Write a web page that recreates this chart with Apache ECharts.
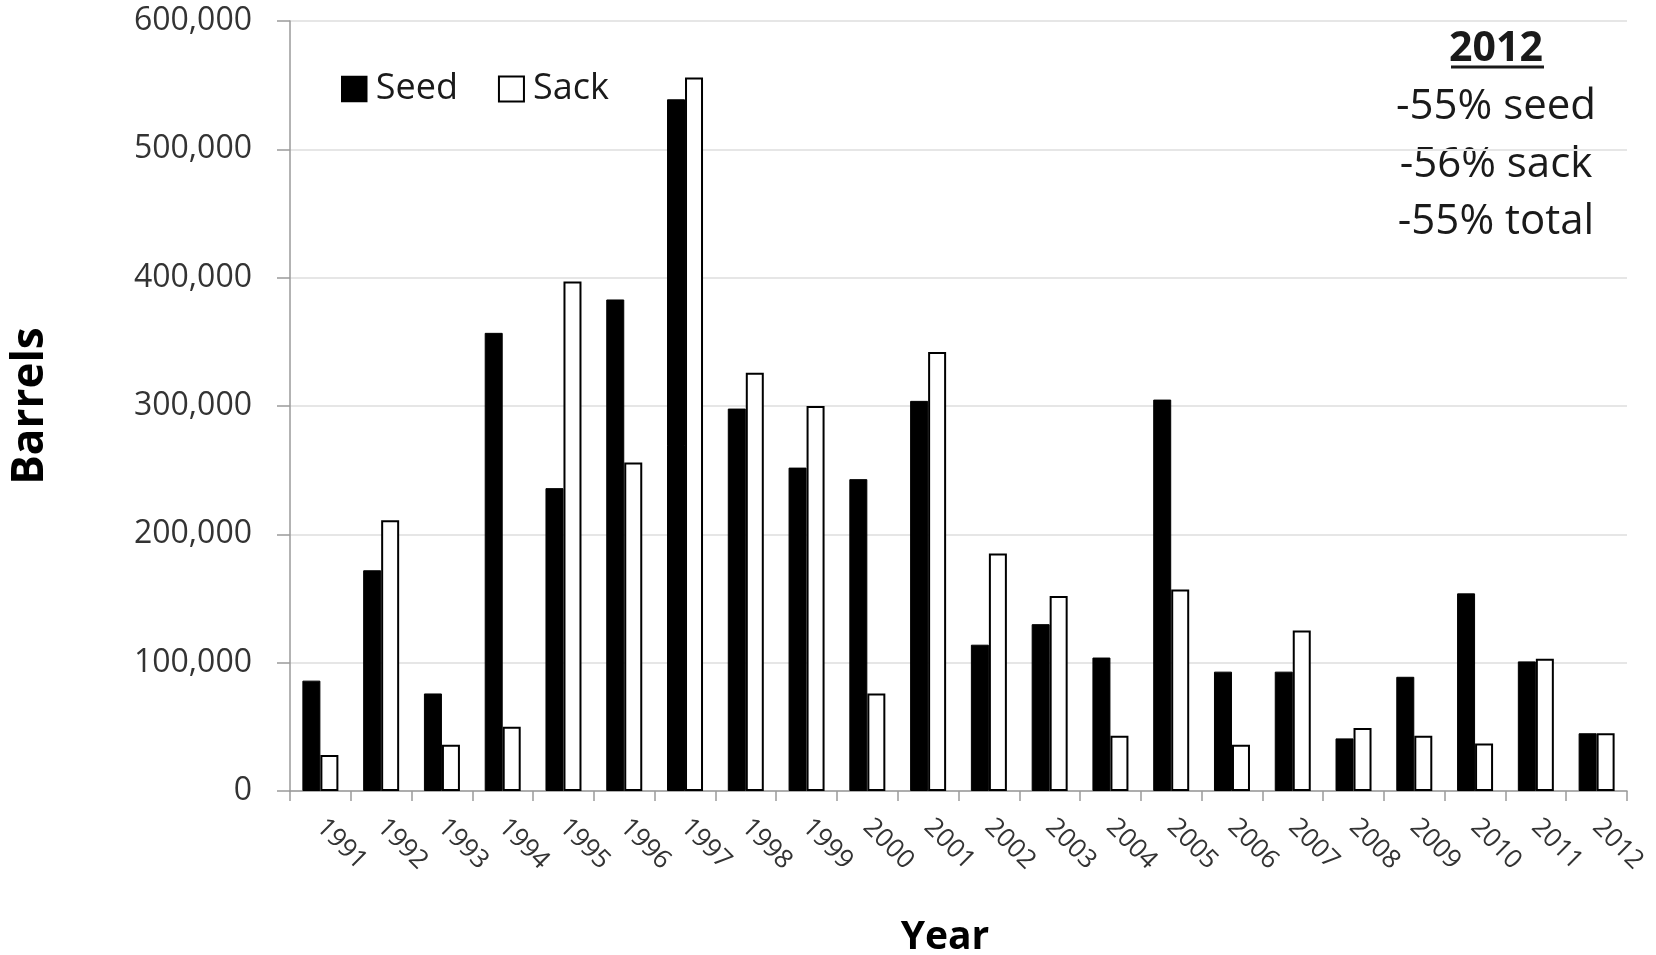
<!DOCTYPE html>
<html>
<head>
<meta charset="utf-8">
<script src="https://cdn.jsdelivr.net/npm/echarts@6/dist/echarts.min.js"></script>
<style>
html,body{margin:0;padding:0;background:#fff;}
#chart{width:1656px;height:955px;}
</style>
</head>
<body>
<div id="chart"></div>
<script>
var years = ['1991','1992','1993','1994','1995','1996','1997','1998','1999','2000','2001','2002','2003','2004','2005','2006','2007','2008','2009','2010','2011','2012'];
var seed = [86000,172000,76000,357000,236000,383000,539000,298000,252000,243000,304000,114000,130000,104000,305000,93000,93000,41000,89000,154000,101000,45000];
var sack = [28000,211000,36000,50000,397000,256000,556000,326000,300000,76000,342000,185000,152000,43000,157000,36000,125000,49000,43000,37000,103000,45000];
var yTicks = [0,100000,200000,300000,400000,500000,600000];
var noteTitle = '2012';
var noteLines = ['-55% seed','-56% sack','-55% total'];

var FONT = '"Open Sans", "Noto Sans", sans-serif';
var chart = echarts.init(document.getElementById('chart'));
var graphics = [
  {type:'text', x:1496, y:49, style:{text:noteTitle, font:'bold 41px "Open Sans"', fill:'#1a1a1a', textAlign:'center', textVerticalAlign:'middle'}},
  {type:'line', shape:{x1:1451, y1:67, x2:1544, y2:67}, style:{stroke:'#1a1a1a', lineWidth:3}}
];
var noteY = [107, 165, 222];
noteLines.forEach(function(t,i){
  graphics.push({type:'text', x:1496, y:noteY[i], style:{text:t, font:'42px "Open Sans"', fill:'#1a1a1a', textAlign:'center', textVerticalAlign:'middle'}});
});

chart.setOption({
  animation:false,
  backgroundColor:'#fff',
  grid:{left:290, right:29, top:21, bottom:164, containLabel:false, outerBoundsMode:'none'},
  legend:{
    left:336, top:66, itemWidth:25, itemHeight:25, itemGap:40, icon:'rect',
    textStyle:{fontFamily:FONT, fontSize:36, color:'#1a1a1a', padding:[0,0,0,4]},
    data:[
      {name:'Seed', itemStyle:{color:'#000', borderColor:'#000', borderWidth:1.5}},
      {name:'Sack', itemStyle:{color:'#fff', borderColor:'#000', borderWidth:2}}
    ]
  },
  xAxis:{
    type:'category', data:years, boundaryGap:true,
    name:'Year', nameLocation:'middle', nameGap:127,
    nameTextStyle:{fontFamily:FONT, fontWeight:'bold', fontSize:39, color:'#000', padding:[0,27,0,0]},
    axisLine:{lineStyle:{color:'#9a9a9a', width:1.5}},
    axisTick:{show:true, alignWithLabel:false, length:10, lineStyle:{color:'#9a9a9a', width:1.5}},
    axisLabel:{rotate:-45, margin:32, fontFamily:FONT, fontSize:26, color:'#333', interval:0}
  },
  yAxis:{
    type:'value', min:0, max:600000, interval:100000,
    name:'Barrels', nameLocation:'middle', nameGap:238, nameRotate:90,
    nameTextStyle:{fontFamily:FONT, fontWeight:'bold', fontSize:44, color:'#000'},
    axisLine:{show:true, lineStyle:{color:'#9a9a9a', width:1.5}},
    axisTick:{show:true, length:13, lineStyle:{color:'#9a9a9a', width:1.5}},
    axisLabel:{margin:38, fontFamily:FONT, fontSize:32, color:'#333',
      formatter:function(v){ return yTicks.indexOf(v) >= 0 ? v.toLocaleString('en-US') : ''; }},
    splitLine:{show:true, lineStyle:{color:'#e6e6e6', width:2}}
  },
  series:[
    {name:'Seed', type:'bar', data:seed, barWidth:18, barGap:'0%',
     itemStyle:{color:'#000', borderColor:'#000', borderWidth:1}},
    {name:'Sack', type:'bar', data:sack, barWidth:18, barGap:'0%',
     itemStyle:{color:'#fff', borderColor:'#000', borderWidth:2}}
  ],
  graphic:graphics
});
</script>
</body>
</html>
